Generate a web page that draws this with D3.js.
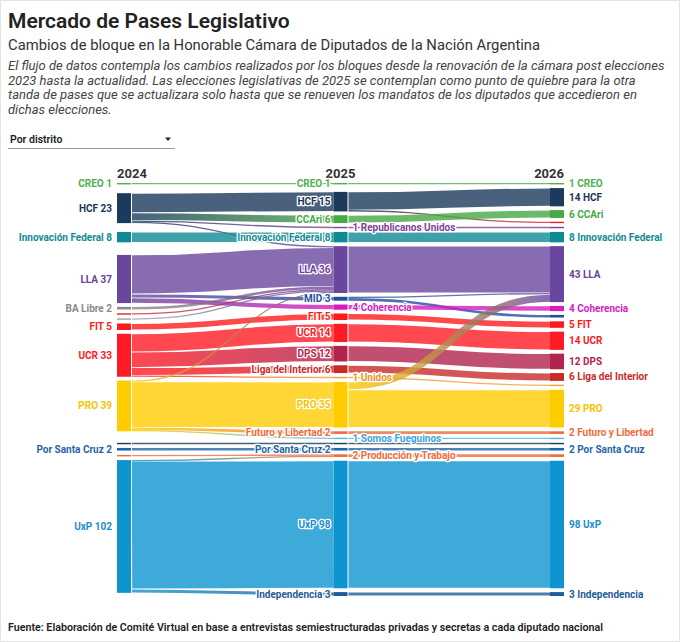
<!DOCTYPE html>
<html><head><meta charset="utf-8">
<script src="https://cdn.jsdelivr.net/npm/d3@7"></script>
<style>
html,body{margin:0;padding:0;background:#fff;}
svg{display:block;font-family:Roboto,"Noto Sans",sans-serif;}
</style></head><body>
<svg id="chart" width="680" height="642"></svg>
<script>
// ---------------- DATA ----------------
const years = ["2024", "2025", "2026"];

const blocs2024 = ["CREO","HCF","Innovación Federal","LLA","BA Libre","Bloque A","Bloque B","FIT","UCR","PRO","Bloque C","Por Santa Cruz","Producción y Trabajo","UxP"];
const blocs2025 = ["CREO","HCF","CCAri","Republicanos Unidos","Innovación Federal","LLA","MID","Coherencia","FIT","UCR","DPS","Liga del Interior","Unidos","PRO","Futuro y Libertad","Somos Fueguinos","Bloque C","Por Santa Cruz","Producción y Trabajo","UxP","Independencia"];
const blocs2026 = ["CREO","HCF","CCAri","Bloque D","Republicanos Unidos","Innovación Federal","LLA","Coherencia","MID","FIT","UCR","DPS","Liga del Interior","Unidos","PRO","Futuro y Libertad","Somos Fueguinos","Bloque C","Por Santa Cruz","Producción y Trabajo","UxP","Independencia"];

const flows2024to2025 = [
  ["CREO","CREO",1],
  ["HCF","HCF",15],["HCF","CCAri",6],["HCF","Republicanos Unidos",1],["HCF","LLA",1],
  ["Innovación Federal","Innovación Federal",8],
  ["LLA","LLA",30],["LLA","MID",3],["LLA","Coherencia",4],
  ["BA Libre","LLA",2],["Bloque A","LLA",1],["Bloque B","LLA",1],
  ["FIT","FIT",5],
  ["UCR","UCR",14],["UCR","DPS",12],["UCR","Liga del Interior",6],["UCR","Unidos",1],
  ["PRO","PRO",35],["PRO","LLA",1],["PRO","Futuro y Libertad",2],["PRO","Somos Fueguinos",1],
  ["Bloque C","Bloque C",1],
  ["Por Santa Cruz","Por Santa Cruz",2],
  ["Producción y Trabajo","Producción y Trabajo",1],
  ["UxP","UxP",98],["UxP","Independencia",3],["UxP","Producción y Trabajo",1]
];
const flows2025to2026 = [
  ["CREO","CREO",1],
  ["HCF","HCF",14],["HCF","Bloque D",1],
  ["CCAri","CCAri",6],
  ["Republicanos Unidos","Republicanos Unidos",1],
  ["Innovación Federal","Innovación Federal",8],
  ["LLA","LLA",36],
  ["MID","LLA",1],["MID","MID",2],
  ["Coherencia","Coherencia",4],
  ["FIT","FIT",5],
  ["UCR","UCR",14],
  ["DPS","DPS",12],
  ["Liga del Interior","Liga del Interior",6],
  ["Unidos","Unidos",1],
  ["PRO","LLA",6],["PRO","PRO",29],
  ["Futuro y Libertad","Futuro y Libertad",2],
  ["Somos Fueguinos","Somos Fueguinos",1],
  ["Bloque C","Bloque C",1],
  ["Por Santa Cruz","Por Santa Cruz",2],
  ["Producción y Trabajo","Producción y Trabajo",2],
  ["UxP","UxP",98],
  ["Independencia","Independencia",3]
];

const hiddenLabels2024 = ["Bloque A","Bloque B","Bloque C","Producción y Trabajo"];
const hiddenLabels2025 = ["Bloque C"];
const hiddenLabels2026 = ["Bloque D","Republicanos Unidos","MID","Unidos","Somos Fueguinos","Bloque C","Producción y Trabajo"];
const rightLabels2025 = ["Republicanos Unidos","Coherencia","Unidos","Somos Fueguinos","Producción y Trabajo"];

const blocColors = {
  "CREO":"#4caf50","HCF":"#1b3a5c","CCAri":"#46a946","Republicanos Unidos":"#7f3f9a",
  "Innovación Federal":"#0f8b95","LLA":"#6a479e","BA Libre":"#8a8a8a","Bloque A":"#e02424",
  "Bloque B":"#a0a0a0","MID":"#1f4fa0","Coherencia":"#d41cbf","FIT":"#ff1a1a","UCR":"#ff1a24",
  "DPS":"#b2234d","Liga del Interior":"#c92a2a","Unidos":"#eea030","PRO":"#ffcc00",
  "Futuro y Libertad":"#f26a3a","Somos Fueguinos":"#58b4e0","Bloque C":"#1b3a5c",
  "Por Santa Cruz":"#1f66a6","Producción y Trabajo":"#f26a3a","UxP":"#0e95d0",
  "Independencia":"#1e5c9a","Bloque D":"#e02424"
};
const labelColors = {"PRO":"#f5c400","LLA":"#6b3fa0","HCF":"#1d3557","UxP":"#1a8fd0","Somos Fueguinos":"#3fa3dc","Unidos":"#e8962a"};

// ---------------- SVG ----------------
const W = 680, H = 642;
const svg = d3.select("#chart");
svg.append("rect").attr("x",0.5).attr("y",0.5).attr("width",W-1).attr("height",H-1)
  .attr("fill","#fff").attr("stroke","#e4e4e4");

svg.append("text").attr("x",8).attr("y",28).attr("font-size",21).attr("font-weight",600)
  .attr("fill","#222").text("Mercado de Pases Legislativo");
svg.append("text").attr("x",8).attr("y",50).attr("font-size",14.8).attr("font-weight",400)
  .attr("fill","#333").text("Cambios de bloque en la Honorable Cámara de Diputados de la Nación Argentina");
const desc = [
  "El flujo de datos contempla los cambios realizados por los bloques desde la renovación de la cámara post elecciones",
  "2023 hasta la actualidad. Las elecciones legislativas de 2025 se contemplan como punto de quiebre para la otra",
  "tanda de pases que se actualizara solo hasta que se renueven los mandatos de los diputados que accedieron en",
  "dichas elecciones."
];
svg.append("g").selectAll("text").data(desc).join("text")
  .attr("x",8).attr("y",(d,i)=>70+i*14.6).attr("font-size",13).attr("font-style","italic")
  .attr("fill","#444").text(d=>d);

svg.append("text").attr("x",10).attr("y",143).attr("font-size",10.5).attr("font-weight",600)
  .attr("fill","#222").text("Por distrito");
svg.append("line").attr("x1",8).attr("x2",175).attr("y1",148.5).attr("y2",148.5).attr("stroke","#999");
svg.append("path").attr("d","M165,137.5 L171,137.5 L168,141 Z").attr("fill","#222");

svg.append("text").attr("x",8).attr("y",631).attr("font-size",10.7).attr("font-weight",600)
  .attr("fill","#222").text("Fuente: Elaboración de Comité Virtual en base a entrevistas semiestructuradas privadas y secretas a cada diputado nacional");

// ---------------- SANKEY LAYOUT (classic centre-weighted relaxation) ----------------
const nodeWidth = 14, nodePadding = 3.8;
const ext = {x0:117, x1:564, y0:183, y1:596};
const xScale = d3.scalePoint().domain(years).range([ext.x0, ext.x1 - nodeWidth]);

const columnNames = [blocs2024, blocs2025, blocs2026];
const nodes = [], byId = new Map();
columnNames.forEach((arr,c)=>arr.forEach(name=>{
  const n = {id:c+":"+name, name, layer:c, index:nodes.length, sourceLinks:[], targetLinks:[]};
  nodes.push(n); byId.set(n.id,n);
}));
const links = [];
[flows2024to2025, flows2025to2026].forEach((fl,c)=>fl.forEach(([s,t,v])=>{
  const l = {source:byId.get(c+":"+s), target:byId.get((c+1)+":"+t), value:v, index:links.length};
  links.push(l); l.source.sourceLinks.push(l); l.target.targetLinks.push(l);
}));
nodes.forEach(n=>{ n.value = Math.max(d3.sum(n.sourceLinks,l=>l.value), d3.sum(n.targetLinks,l=>l.value)); });
const columns = columnNames.map((arr,c)=>nodes.filter(n=>n.layer===c));
nodes.forEach(n=>{ n.x0 = xScale(years[n.layer]); n.x1 = n.x0 + nodeWidth; });

const py = nodePadding;
const ky = d3.min(columns, c=>(ext.y1-ext.y0-(c.length-1)*py)/d3.sum(c,d=>d.value));
const hScale = d3.scaleLinear().domain([0,1]).range([0,ky]);
nodes.forEach((n)=>{ n.y0 = ext.y0; n.y1 = n.y0 + hScale(n.value); });
links.forEach(l=>{ l.width = hScale(l.value); });

const center = n => (n.y0+n.y1)/2;
function shift(n,dy){ n.y0+=dy; n.y1+=dy; }
function resolveCollisions(){
  for (const c of columns){
    let y = ext.y0;
    for (const n of c){ const dy = y - n.y0; if (dy>0) shift(n,dy); y = n.y1 + py; }
    let dy = y - py - ext.y1;
    if (dy > 0){
      let last = c[c.length-1]; shift(last,-dy); y = last.y0;
      for (let i=c.length-2;i>=0;i--){ const n=c[i]; const d = n.y1 + py - y; if (d>0) shift(n,-d); y = n.y0; }
    }
  }
}
function relaxLeftToRight(alpha){
  for (const c of columns) for (const n of c){
    if (!n.targetLinks.length) continue;
    const y = d3.sum(n.targetLinks,l=>center(l.source)*l.value)/d3.sum(n.targetLinks,l=>l.value);
    shift(n,(y-center(n))*alpha);
  }
}
function relaxRightToLeft(alpha){
  for (const c of columns.slice().reverse()) for (const n of c){
    if (!n.sourceLinks.length) continue;
    const y = d3.sum(n.sourceLinks,l=>center(l.target)*l.value)/d3.sum(n.sourceLinks,l=>l.value);
    shift(n,(y-center(n))*alpha);
  }
}
resolveCollisions();
let alpha = 1;
for (let k=32;k>0;--k){
  alpha *= 0.99;
  relaxRightToLeft(alpha); resolveCollisions();
  relaxLeftToRight(alpha); resolveCollisions();
}
for (const n of nodes){
  n.sourceLinks.sort((a,b)=>a.target.y0-b.target.y0);
  n.targetLinks.sort((a,b)=>a.source.y0-b.source.y0);
}
for (const n of nodes){
  let a=n.y0, b=n.y0;
  for (const l of n.sourceLinks){ l.y0 = a + l.width/2; a += l.width; }
  for (const l of n.targetLinks){ l.y1 = b + l.width/2; b += l.width; }
}

// ---------------- DRAW ----------------
const yearG = svg.append("g").attr("font-size",13).attr("font-weight",700).attr("fill","#333");
years.forEach((yr,i)=>{
  const x0 = xScale(yr);
  const anchor = i===0 ? "start" : (i===years.length-1 ? "end" : "middle");
  const x = i===0 ? x0 : (i===years.length-1 ? x0+nodeWidth : x0+nodeWidth/2);
  yearG.append("text").attr("x",x).attr("y",178).attr("text-anchor",anchor).text(yr);
});

const defs = svg.append("defs");
const linkG = svg.append("g").attr("fill","none");
links.forEach((l,i)=>{
  const cs = blocColors[l.source.name], ct = blocColors[l.target.name];
  let stroke = cs;
  if (cs !== ct){
    const g = defs.append("linearGradient").attr("id","lg"+i).attr("gradientUnits","userSpaceOnUse")
      .attr("x1",l.source.x1).attr("x2",l.target.x0).attr("y1",0).attr("y2",0);
    g.append("stop").attr("offset","0%").attr("stop-color",cs);
    g.append("stop").attr("offset","100%").attr("stop-color",ct);
    stroke = "url(#lg"+i+")";
  }
  const xs = l.source.x1 + 1, xt = l.target.x0, xm = (xs+xt)/2;
  linkG.append("path")
    .attr("d",`M${xs},${l.y0}C${xm},${l.y0} ${xm},${l.y1} ${xt},${l.y1}`)
    .attr("stroke",stroke).attr("stroke-opacity",0.8)
    .attr("stroke-width", l.width > 3 ? l.width - 0.9 : Math.max(1.2, l.width));
});

svg.append("g").selectAll("rect").data(nodes).join("rect")
  .attr("x",d=>d.x0).attr("y",d=>d.y0).attr("width",nodeWidth)
  .attr("height",d=>Math.max(1.4,d.y1-d.y0))
  .attr("fill",d=>blocColors[d.name]);

const hidden = [hiddenLabels2024, hiddenLabels2025, hiddenLabels2026];
const labG = svg.append("g").attr("font-size",10).attr("font-weight",700);
nodes.forEach(n=>{
  if (hidden[n.layer].includes(n.name)) return;
  const col = labelColors[n.name] || blocColors[n.name];
  const cy = (n.y0+n.y1)/2;
  if (n.layer===0){
    labG.append("text").attr("x",n.x0-5).attr("y",cy).attr("dy","0.35em").attr("text-anchor","end")
      .attr("fill",col).text(`${n.name} ${n.value}`);
  } else if (n.layer===2){
    labG.append("text").attr("x",n.x1+5).attr("y",cy).attr("dy","0.35em").attr("text-anchor","start")
      .attr("fill",col).text(`${n.value} ${n.name}`);
  } else {
    const right = rightLabels2025.includes(n.name);
    labG.append("text").attr("x",right ? n.x1+5 : n.x0-3).attr("y",cy).attr("dy","0.35em")
      .attr("text-anchor",right ? "start" : "end")
      .attr("fill",col).attr("stroke","#fff").attr("stroke-width",2.6).attr("stroke-linejoin","round")
      .attr("paint-order","stroke")
      .text(right ? `${n.value} ${n.name}` : `${n.name} ${n.value}`);
  }
});
</script></body></html>
